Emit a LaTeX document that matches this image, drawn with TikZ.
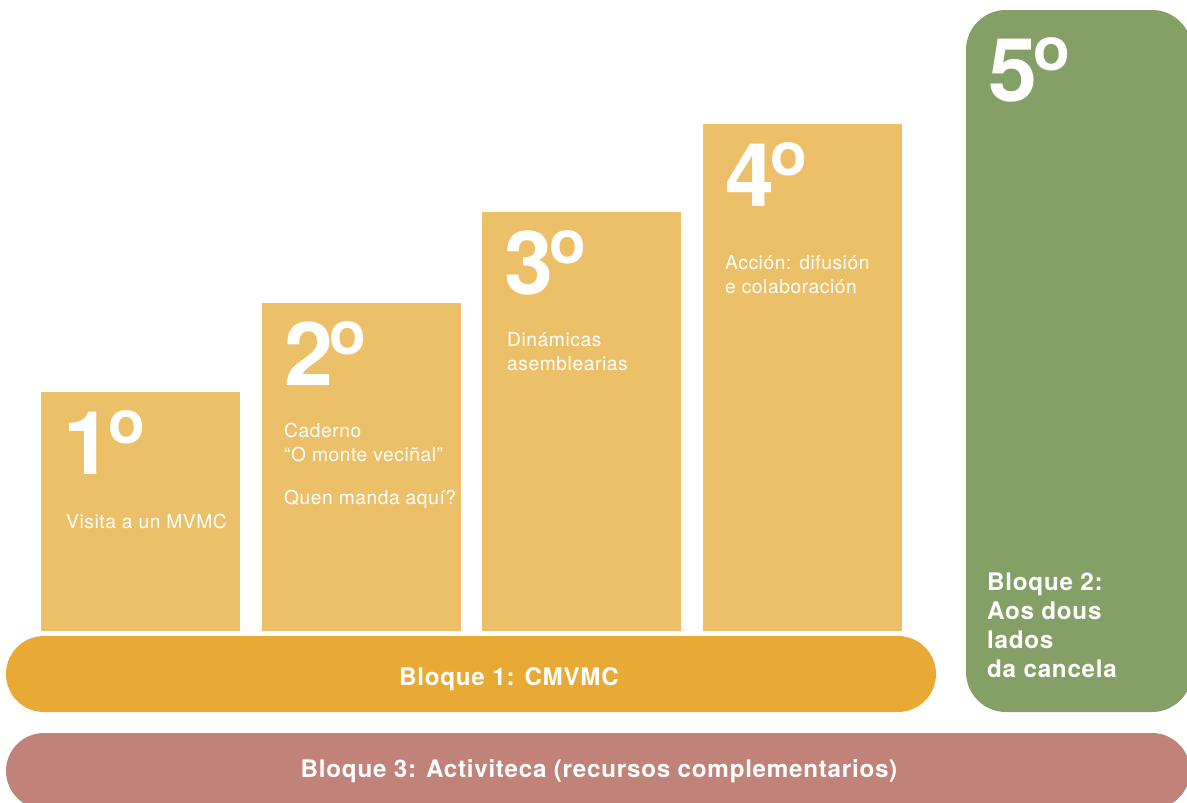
\documentclass[tikz,border=0pt]{standalone}
\usepackage{fontspec}
\setmainfont{TeX Gyre Heros}
\newfontfamily\stepfont[LetterSpace=3]{TeX Gyre Heros}
\usetikzlibrary{positioning}
\definecolor{stepyellow}{HTML}{ECC069}
\definecolor{blockorange}{HTML}{E8AA34}
\definecolor{blockgreen}{HTML}{85A066}
\definecolor{blockrose}{HTML}{C08279}
% big ordinal: digit plus raised small o
\newcommand{\ordnum}[1]{#1\kern-4pt\raisebox{31pt}{\fontsize{60}{60}\selectfont o}}

\begin{document}
\begin{tikzpicture}[x=1pt,y=-1pt,
  stepbox/.style={fill=stepyellow,anchor=north west,inner sep=0pt,
    minimum width=199pt},
  stepnum/.style={anchor=north west,inner sep=0pt,text=white,
    font=\fontsize{88}{88}\bfseries\selectfont},
  steptext/.style={anchor=base west,inner sep=0pt,text=white,align=left,
    font=\stepfont\fontsize{19.2}{24}\selectfont},
  blocktext/.style={inner sep=0pt,text=white,align=left,
    font=\stepfont\fontsize{24.2}{29}\bfseries\selectfont}]
\useasboundingbox (0,0) rectangle (1187,803);
\clip (0,0) rectangle (1187,803);
% the four steps
\foreach \n/\x/\top in {1/41/392,2/262/303,3/482/212,4/703/124}{
  \pgfmathsetmacro{\h}{631-\top}
  \node[stepbox,minimum height=\h pt] (s\n) at (\x,\top) {};
  \node[stepnum] (n\n) at ([xshift=22pt,yshift=-18pt]s\n.north west) {\ordnum{\n}};
}
% texts sit on the baseline of their last line
\node[steptext] (t1) at ([xshift=25pt,yshift=-136pt]s1.north west)
  {Visita a un MVMC};
\node[steptext] (t2) at ([xshift=22pt,yshift=-201pt]s2.north west)
  {Caderno\\“O monte veciñal”\\[19pt]Quen manda aquí?};
\node[steptext] (t3) at ([xshift=25pt,yshift=-158pt]s3.north west)
  {Dinámicas\\asemblearias};
\node[steptext] (t4) at ([xshift=22pt,yshift=-169pt]s4.north west)
  {Acción: difusión\\e colaboración};
% the blocks
\fill[blockgreen,rounded corners=40pt] (966,10) rectangle (1192,712);
\node[stepnum] (n5) at (988,37) {\ordnum{5}};
\node[blocktext,anchor=base west] (b2) at (987,677)
  {Bloque 2:\\Aos dous\\lados\\da cancela};
\fill[blockorange,rounded corners=38pt] (6,636) rectangle (936,712);
\node[blocktext] (b1) at (509,679) {Bloque 1: CMVMC};
\fill[blockrose,rounded corners=38pt] (6,733) rectangle (1190,809);
\node[blocktext] (b3) at (599,771) {Bloque 3: Activiteca (recursos complementarios)};
\end{tikzpicture}
\end{document}
